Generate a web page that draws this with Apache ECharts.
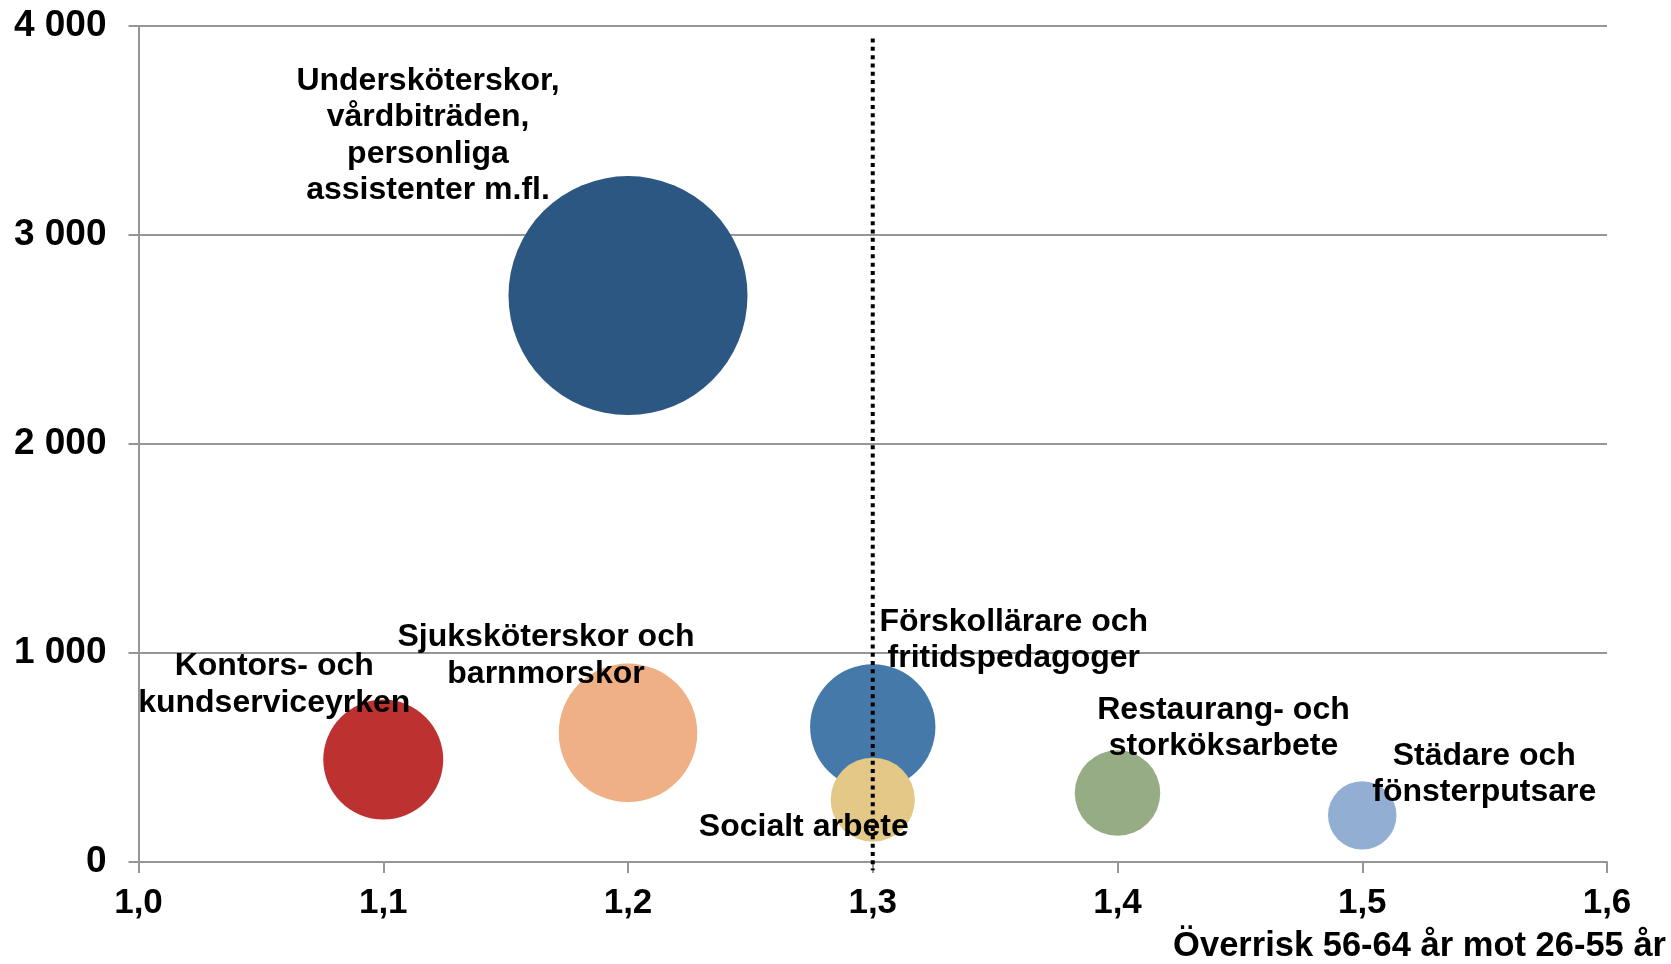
<!DOCTYPE html>
<html>
<head>
<meta charset="utf-8">
<script src="https://cdn.jsdelivr.net/npm/echarts@6/dist/echarts.min.js"></script>
<style>
  html, body { margin: 0; padding: 0; background: #fff; }
  #main { width: 1671px; height: 964px; }
</style>
</head>
<body>
<div id="main"></div>
<script>
// yrkesgrupper
var names = [
    'Undersköterskor,\nvårdbiträden,\npersonliga\nassistenter m.fl.',
    'Kontors- och\nkundserviceyrken',
    'Sjuksköterskor och\nbarnmorskor',
    'Förskollärare och\nfritidspedagoger',
    'Socialt arbete',
    'Restaurang- och\nstorköksarbete',
    'Städare och\nfönsterputsare'
];
// överrisk 56-64 år mot 26-55 år
var overrisk = [1.2, 1.1, 1.2, 1.3, 1.3, 1.4, 1.5];
// antal (y-axeln)
var antal = [2710, 490, 618, 646, 298, 330, 223];
// bubbelstorlek (relativ, största = 100)
var storlek = [100, 25.2, 33.6, 27.5, 12.4, 12.8, 8.2];
var colors = ['#2C5783', '#BE3131', '#EFB085', '#4579AA', '#E3C888', '#96AC84', '#92AFD3'];
// etikettens förskjutning från bubblan
var labelOffsets = [[-200, -160], [-109, -75], [-82, -77], [141, -87], [-69, 27], [106, -65], [122, -41]];

var xTicks = { min: 1.0, max: 1.6, interval: 0.1 };
var yTicks = { min: 0, max: 4000, interval: 1000 };
var refLine = { x: 1.3, top: 3940, bottom: -40 };

var font = '"Liberation Sans", Arial, sans-serif';
var maxDiameter = 239;

var bubbleData = names.map(function (n, i) {
    return {
        name: n,
        value: [overrisk[i], antal[i], storlek[i]],
        itemStyle: { color: colors[i] },
        label: { offset: labelOffsets[i] }
    };
});

var myChart = echarts.init(document.getElementById('main'));
var option = {
    animation: false,
    title: {
        text: 'Överrisk 56-64 år mot 26-55 år',
        right: 5,
        top: 928,
        padding: 0,
        textStyle: { fontFamily: font, fontWeight: 'bold', fontSize: 34.5, color: '#000', lineHeight: 36 }
    },
    grid: { left: 138.5, right: 64, top: 26, bottom: 102 },
    xAxis: {
        type: 'value',
        min: xTicks.min, max: xTicks.max, interval: xTicks.interval,
        axisLine: { show: true, lineStyle: { color: '#969696', width: 2 } },
        axisTick: { show: true, length: 11, lineStyle: { color: '#969696', width: 2 } },
        splitLine: { show: false },
        axisLabel: {
            margin: 24,
            fontFamily: font, fontWeight: 'bold', fontSize: 35, color: '#000',
            formatter: function (v) { return v.toFixed(1).replace('.', ','); }
        }
    },
    yAxis: {
        type: 'value',
        min: yTicks.min, max: yTicks.max, interval: yTicks.interval,
        axisLine: { show: true, lineStyle: { color: '#969696', width: 2 } },
        axisTick: { show: true, length: 10, lineStyle: { color: '#969696', width: 2 } },
        splitLine: { show: true, lineStyle: { color: '#969696', width: 2 } },
        axisLabel: {
            margin: 32,
            fontFamily: font, fontWeight: 'bold', fontSize: 37, color: '#000',
            formatter: function (v) { return String(v).replace(/\B(?=(\d{3})+(?!\d))/g, ' '); }
        }
    },
    series: [{
        type: 'scatter',
        data: bubbleData,
        symbolSize: function (val) { return maxDiameter * Math.sqrt(val[2] / 100); },
        itemStyle: { opacity: 1 },
        label: {
            show: true,
            position: 'inside',
            formatter: '{b}',
            align: 'center',
            verticalAlign: 'middle',
            fontFamily: font, fontWeight: 'bold', fontSize: 32, lineHeight: 36.5, color: '#000'
        },
        z: 2
    }, {
        type: 'line',
        data: [[refLine.x, refLine.top], [refLine.x, refLine.bottom]],
        showSymbol: false,
        clip: false,
        silent: true,
        lineStyle: { color: '#000', width: 4, type: [4, 4.3], cap: 'butt' },
        z: 5
    }]
};
myChart.setOption(option);
</script>
</body>
</html>
